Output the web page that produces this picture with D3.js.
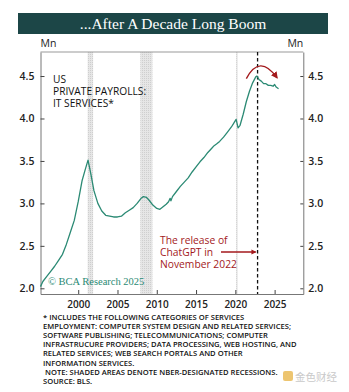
<!DOCTYPE html>
<html><head><meta charset="utf-8">
<script src="https://cdn.jsdelivr.net/npm/d3@7"></script>
<style>
html,body{margin:0;padding:0;background:#fff;}
svg{display:block;}
</style></head>
<body>
<script>
// ---- data ----
const years = [1995.2,1995.5,1996.0,1996.5,1997.0,1997.5,1998.0,1998.5,1999.0,1999.5,2000.0,2000.5,2000.9,2001.25,2001.6,2002.0,2002.5,2003.0,2003.5,2004.0,2004.5,2005.0,2005.5,2006.0,2006.5,2007.0,2007.5,2008.0,2008.3,2008.7,2009.0,2009.5,2010.0,2010.4,2010.8,2011.2,2011.5,2011.7,2011.8,2012.0,2012.5,2013.0,2013.5,2014.0,2014.5,2015.0,2015.5,2016.0,2016.5,2017.0,2017.3,2017.6,2018.0,2018.5,2019.0,2019.5,2019.9,2020.1,2020.35,2020.6,2021.0,2021.4,2021.8,2022.2,2022.6,2022.75,2023.0,2023.3,2023.6,2023.9,2024.2,2024.5,2024.8,2025.0,2025.2,2025.5];
const payrolls = [2.02,2.08,2.14,2.20,2.26,2.33,2.40,2.52,2.66,2.80,3.02,3.27,3.40,3.51,3.35,3.15,3.00,2.91,2.86,2.85,2.84,2.84,2.85,2.89,2.92,2.95,3.00,3.06,3.08,3.07,3.04,2.98,2.94,2.93,2.96,2.99,3.02,3.06,3.03,3.08,3.14,3.20,3.25,3.30,3.37,3.43,3.49,3.54,3.60,3.65,3.68,3.70,3.73,3.78,3.84,3.90,3.96,3.99,3.89,3.92,4.05,4.20,4.32,4.42,4.49,4.50,4.46,4.44,4.41,4.41,4.39,4.39,4.38,4.40,4.37,4.35];
const recessions = [[2001.2,2001.9],[2007.9,2009.45],[2020.1,2020.3]];
const chatgptDate = 2022.83;
const xTicks = [2000,2005,2010,2015,2020,2025];
const yTicks = [2.0,2.5,3.0,3.5,4.0,4.5];
const title = "...After A Decade Long Boom";
const seriesLabel = ["US","PRIVATE PAYROLLS:","IT SERVICES*"];
const noteLabel = ["The release of","ChatGPT in","November 2022"];
const footnotes = [
 "* INCLUDES THE FOLLOWING CATEGORIES OF SERVICES",
 "EMPLOYMENT: COMPUTER SYSTEM DESIGN AND RELATED SERVICES;",
 "SOFTWARE PUBLISHING; TELECOMMUNICATIONS; COMPUTER",
 "INFRASTRUCURE PROVIDERS; DATA PROCESSING, WEB HOSTING, AND",
 "RELATED SERVICES; WEB SEARCH PORTALS AND OTHER",
 "INFORMATION SERVICES.",
 "\u00a0NOTE: SHADED AREAS DENOTE NBER-DESIGNATED RECESSIONS.",
 "SOURCE: BLS."
];

// ---- layout ----
const W = 349, H = 392;
const L = 40.5, R = 303.3, T = 52, B = 294;
const svg = d3.select("body").append("svg").attr("width", W).attr("height", H);
const sans = "'Open Sans', 'DejaVu Sans', sans-serif";
const serif = "'Liberation Serif', 'DejaVu Serif', serif";
const red = "#a3191c";
const teal = "#2b8a74";

const x = d3.scaleLinear().domain([1995.2, 2028.65]).range([L, R]);
const y = d3.scaleLinear().domain([1.933, 4.783]).range([B, T]);

// defs
const defs = svg.append("defs");
const pat = defs.append("pattern").attr("id","stip").attr("width",2).attr("height",2).attr("patternUnits","userSpaceOnUse");
pat.append("rect").attr("width",2).attr("height",2).attr("fill","#e6e6e6");
pat.append("rect").attr("width",1).attr("height",1).attr("fill","#cfcfcf");
defs.append("marker").attr("id","ah").attr("viewBox","0 0 10 10").attr("refX",8).attr("refY",5)
  .attr("markerWidth",4).attr("markerHeight",4).attr("orient","auto")
  .append("path").attr("d","M0,0 L10,5 L0,10 z").attr("fill",red);
defs.append("marker").attr("id","ah2").attr("viewBox","0 0 10 10").attr("refX",8).attr("refY",5)
  .attr("markerWidth",5).attr("markerHeight",5).attr("orient","auto")
  .append("path").attr("d","M0,0 L10,5 L0,10 z").attr("fill",red);

// title bar
svg.append("rect").attr("x",18).attr("y",13).attr("width",310).attr("height",21).attr("fill","#1c4647");
svg.append("text").attr("x",173).attr("y",29).attr("text-anchor","middle")
  .attr("font-family",serif).attr("font-size",15.5).attr("fill","#fff").text(title);

// Mn labels
svg.append("text").attr("x",L).attr("y",47).attr("font-family",sans).attr("font-size",10.5).attr("fill","#222").text("Mn");
svg.append("text").attr("x",R).attr("y",47).attr("text-anchor","end").attr("font-family",sans).attr("font-size",10.5).attr("fill","#222").text("Mn");

// recession shading
svg.selectAll("rect.rec").data(recessions).join("rect").attr("class","rec")
  .attr("x", d => x(d[0])).attr("width", d => Math.max(1.5, x(d[1]) - x(d[0])))
  .attr("y", T).attr("height", B - T).attr("fill","url(#stip)");

// frame top
svg.append("line").attr("x1",L).attr("x2",R).attr("y1",T).attr("y2",T).attr("stroke","#999").attr("stroke-width",1);

// axes
const axL = d3.axisLeft(y).tickValues(yTicks).tickFormat(d3.format(".1f")).tickSizeInner(-4).tickSizeOuter(0).tickPadding(6);
const axR = d3.axisRight(y).tickValues(yTicks).tickFormat(d3.format(".1f")).tickSizeInner(-3).tickSizeOuter(0).tickPadding(5);
const axB = d3.axisBottom(x).tickValues(xTicks).tickFormat(d3.format("d")).tickSizeInner(-4).tickSizeOuter(0).tickPadding(7);
function styleAxis(g){
  g.select(".domain").attr("stroke","#777");
  g.selectAll(".tick line").attr("stroke","#444");
  g.selectAll("text").attr("font-family",sans).attr("font-size",10.5).attr("font-weight",600).attr("fill","#222");
}
svg.append("g").attr("transform",`translate(${L},0)`).call(axL).call(styleAxis);
svg.append("g").attr("transform",`translate(${R},0)`).call(axR).call(styleAxis);
svg.append("g").attr("transform",`translate(0,${B})`).call(axB).call(styleAxis)
  .selectAll("text").attr("font-size",10);

// dashed line
svg.append("line").attr("x1",x(chatgptDate)).attr("x2",x(chatgptDate)).attr("y1",T).attr("y2",B)
  .attr("stroke","#111").attr("stroke-width",1.3).attr("stroke-dasharray","3.5,2.5");

// series line
const pts = years.map((yr,i)=>[yr,payrolls[i]]);
svg.append("path").datum(pts).attr("fill","none").attr("stroke",teal).attr("stroke-width",1.3)
  .attr("stroke-linejoin","round")
  .attr("d", d3.line().x(d=>x(d[0])).y(d=>y(d[1])));

// series label (one text per line)
svg.selectAll("text.slab").data(seriesLabel).join("text").attr("class","slab")
  .attr("font-family",sans).attr("font-size",10.2).attr("fill","#111")
  .attr("x",53).attr("y",(d,i)=>83+i*12).text(d=>d);

// ChatGPT note
svg.selectAll("text.nlab").data(noteLabel).join("text").attr("class","nlab")
  .attr("font-family",sans).attr("font-size",10.3).attr("fill",red)
  .attr("x",160).attr("y",(d,i)=>244+i*12).text(d=>d);
svg.append("line").attr("x1",221).attr("x2",x(chatgptDate)-2).attr("y1",252).attr("y2",252)
  .attr("stroke",red).attr("stroke-width",1.3).attr("marker-end","url(#ah)");

// curved arrow above peak
const ax0 = x(2021.4), ay0 = y(4.47);
const ax1 = x(2025.3), ay1 = y(4.48);
svg.append("path").attr("d",`M${ax0},${ay0} Q${(ax0+ax1)/2-2},${ay0-25} ${ax1},${ay1}`)
  .attr("fill","none").attr("stroke",red).attr("stroke-width",1.4).attr("marker-end","url(#ah2)");

// copyright
svg.append("text").attr("x",48).attr("y",285).attr("font-family",serif).attr("font-size",10.5)
  .attr("fill",teal).text("\u00a9 BCA Research 2025");

// footnotes
svg.selectAll("text.fn").data(footnotes).join("text").attr("class","fn")
  .attr("font-family",sans).attr("font-size",7.6).attr("font-weight",600).attr("fill","#111")
  .attr("x",43).attr("y",(d,i)=>320+i*9.1).text(d=>d);

// watermark
svg.append("rect").attr("x",283).attr("y",371).attr("width",10).attr("height",10).attr("rx",2).attr("fill","#e8b64c").attr("opacity",0.8);
svg.append("text").attr("x",295).attr("y",381).attr("font-family","'Noto Sans CJK SC', sans-serif").attr("font-size",10.5)
  .attr("fill","#c9c9c9").text("金色财经");
</script>
</body></html>
